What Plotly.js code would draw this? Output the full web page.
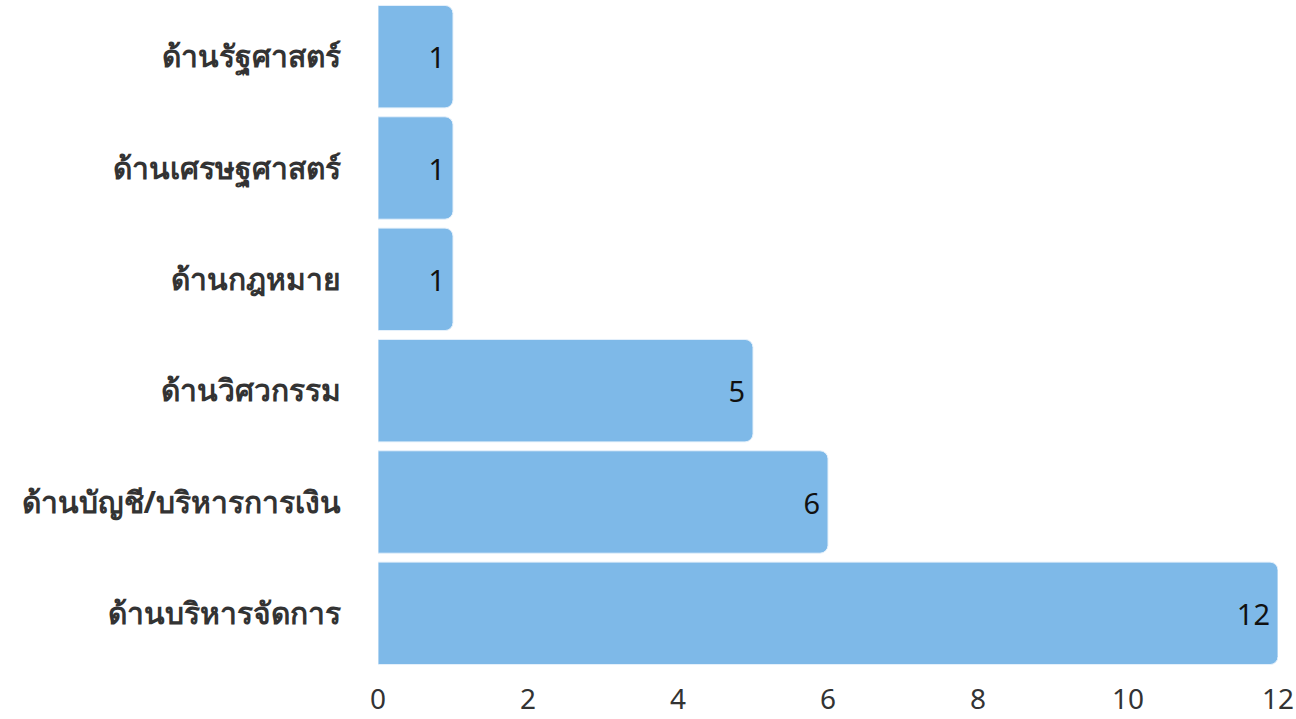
<!DOCTYPE html>
<html>
<head>
<meta charset="utf-8">
<script src="https://cdn.plot.ly/plotly-3.0.1.min.js"></script>
<style>html,body{margin:0;padding:0;background:#fff;}#chart{width:1296px;height:719px;}</style>
</head>
<body>
<div id="chart"></div>
<script>
const categories = ["ด้านบริหารจัดการ", "ด้านบัญชี/บริหารการเงิน", "ด้านวิศวกรรม", "ด้านกฎหมาย", "ด้านเศรษฐศาสตร์", "ด้านรัฐศาสตร์"];
const values = [12, 6, 5, 1, 1, 1];
const xTicks = [0, 2, 4, 6, 8, 10, 12];

const trace = {
  type: "bar",
  orientation: "h",
  y: categories,
  x: values,
  text: values.map(String),
  textposition: "inside",
  insidetextanchor: "end",
  textangle: 0,
  insidetextfont: {family: "Noto Sans, sans-serif", size: 29, color: "#111"},
  marker: {color: "#7EB9E8", line: {color: "#e6f1fb", width: 1}, cornerradius: 8},
  hoverinfo: "none"
};

const layout = {
  width: 1296, height: 719,
  margin: {l: 378, r: 18, t: 1, b: 50},
  paper_bgcolor: "#fff", plot_bgcolor: "#fff",
  bargap: 0.08,
  showlegend: false,
  font: {family: "Noto Sans, sans-serif", color: "#333"},
  xaxis: {range: [0, 12], tickvals: xTicks, ticktext: xTicks.map(String), showgrid: false, zeroline: false, showline: false,
          tickfont: {size: 28, color: "#333"}, ticks: "outside", ticklen: 5, tickcolor: "rgba(0,0,0,0)", automargin: false},
  yaxis: {showgrid: false, zeroline: false, showline: false, ticks: "outside", ticklen: 30, tickcolor: "rgba(0,0,0,0)",
          tickfont: {size: 30, color: "#333", weight: "bold"}, automargin: false}
};

Plotly.newPlot("chart", [trace], layout, {staticPlot: true, displayModeBar: false});
</script>
</body>
</html>
